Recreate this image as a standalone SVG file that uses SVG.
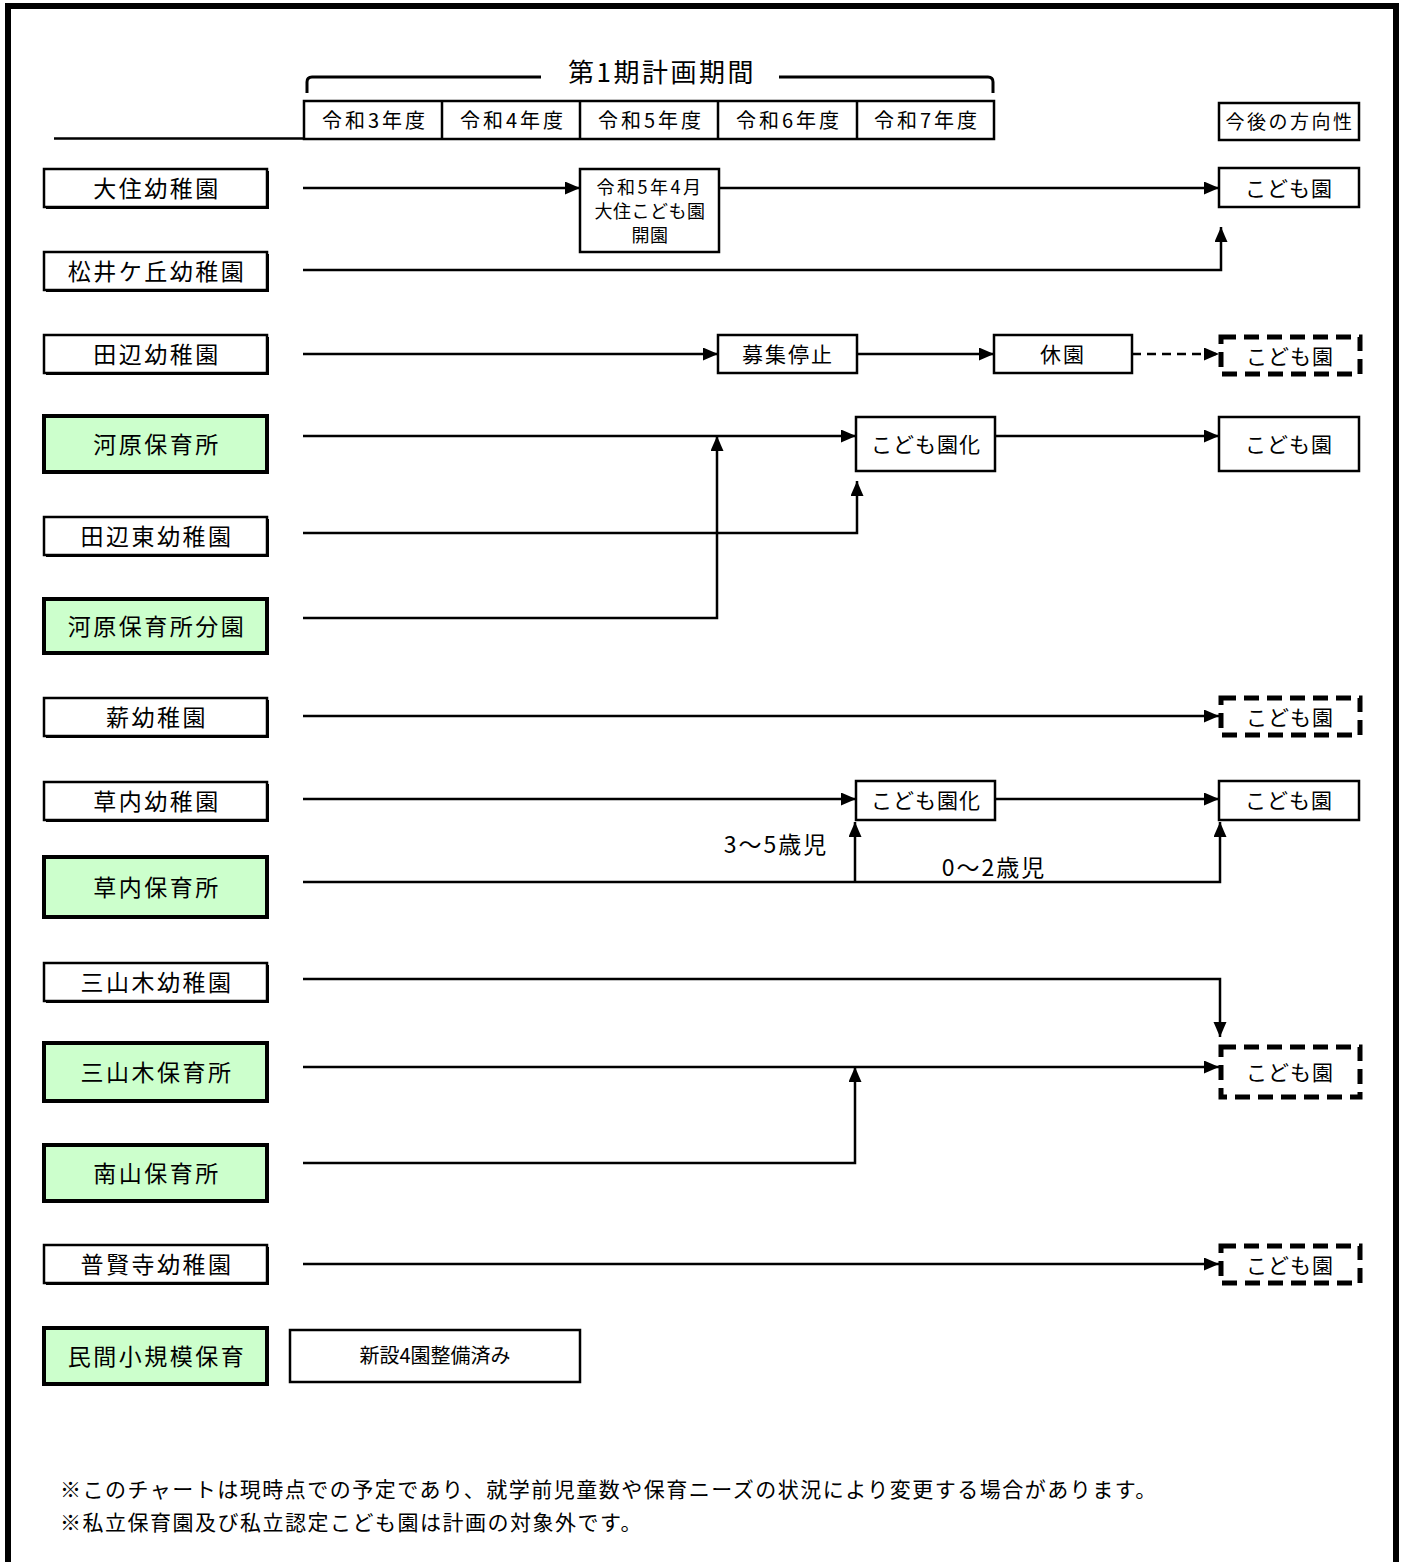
<svg xmlns="http://www.w3.org/2000/svg" width="1405" height="1562" viewBox="0 0 1405 1562">
<defs>
<marker id="arr" markerUnits="userSpaceOnUse" markerWidth="16" markerHeight="14" refX="15" refY="6.5" orient="auto">
<path d="M0,0 L15,6.5 L0,13 z" fill="#000"/>
</marker>
<style>
text{font-family:"Noto Sans CJK JP","Noto Sans CJK SC",sans-serif;fill:#000;text-anchor:middle}
.box{fill:#fff;stroke:#000;stroke-width:2.5}
.sh{fill:#000}
.green{fill:#ccffcc;stroke:#000;stroke-width:4}
.dash{fill:#fff;stroke:#000;stroke-width:5;stroke-dasharray:15 8}
.lbl{font-size:23px;letter-spacing:2.5px}
.yr{font-size:20px;letter-spacing:3px}
.c{fill:none;stroke:#000;stroke-width:2.5}
.note{font-size:21px;letter-spacing:1.5px;text-anchor:start}
.age{font-size:23px;letter-spacing:2px}
</style>
</defs>
<rect width="1405" height="1562" fill="#fff"/>
<path d="M8,1562 V6 H1396 V1562" fill="none" stroke="#000" stroke-width="6"/>

<g id="header">
<path d="M54,138.5 H304" class="c"/>
<rect x="304" y="101" width="690" height="38" class="box"/>
<path d="M442,101 V139 M580,101 V139 M718,101 V139 M857,101 V139" class="c"/>
<text x="375" y="128" class="yr">令和3年度</text>
<text x="513" y="128" class="yr">令和4年度</text>
<text x="651" y="128" class="yr">令和5年度</text>
<text x="789" y="128" class="yr">令和6年度</text>
<text x="927" y="128" class="yr">令和7年度</text>
<path d="M307,93 V82 Q307,77 312,77 H541 M779,77 H988 Q993,77 993,82 V93" fill="none" stroke="#000" stroke-width="3"/>
<text x="662" y="82" style="font-size:26px;letter-spacing:2.5px">第1期計画期間</text>
<rect x="1219" y="103" width="140" height="37" class="box"/>
<text x="1290" y="129" style="font-size:19px;letter-spacing:2.5px">今後の方向性</text>
</g>

<g id="connectors">
<path d="M303,188 H580" class="c" marker-end="url(#arr)"/>
<path d="M719,188 H1219" class="c" marker-end="url(#arr)"/>
<path d="M303,270 H1221 V227" class="c" marker-end="url(#arr)"/>
<path d="M303,354 H718" class="c" marker-end="url(#arr)"/>
<path d="M857,354 H994" class="c" marker-end="url(#arr)"/>
<path d="M1132,354 H1219" class="c" stroke-dasharray="9 6" marker-end="url(#arr)"/>
<path d="M303,436 H856" class="c" marker-end="url(#arr)"/>
<path d="M995,436 H1219" class="c" marker-end="url(#arr)"/>
<path d="M303,533 H857 V481" class="c" marker-end="url(#arr)"/>
<path d="M303,618 H717 V436" class="c" marker-end="url(#arr)"/>
<path d="M303,716 H1219" class="c" marker-end="url(#arr)"/>
<path d="M303,799 H856" class="c" marker-end="url(#arr)"/>
<path d="M995,799 H1219" class="c" marker-end="url(#arr)"/>
<path d="M303,882 H1220 V822" class="c" marker-end="url(#arr)"/>
<path d="M855,882 V822" class="c" marker-end="url(#arr)"/>
<path d="M303,979 H1220 V1037" class="c" marker-end="url(#arr)"/>
<path d="M303,1067 H1219" class="c" marker-end="url(#arr)"/>
<path d="M303,1163 H855 V1067" class="c" marker-end="url(#arr)"/>
<path d="M303,1264 H1219" class="c" marker-end="url(#arr)"/>
<text x="776" y="853" class="age">3〜5歳児</text>
<text x="994" y="876" class="age">0〜2歳児</text>
</g>

<g id="n-oosumi"><rect x="46" y="171" width="223" height="38" class="sh"/><rect x="44" y="169" width="223" height="38" class="box"/><text x="157" y="197" class="lbl">大住幼稚園</text></g>
<g id="n-matsui"><rect x="46" y="254" width="223" height="38" class="sh"/><rect x="44" y="252" width="223" height="38" class="box"/><text x="157" y="280" class="lbl">松井ケ丘幼稚園</text></g>
<g id="n-tanabe"><rect x="46" y="337" width="223" height="38" class="sh"/><rect x="44" y="335" width="223" height="38" class="box"/><text x="157" y="363" class="lbl">田辺幼稚園</text></g>
<g id="n-kawara"><rect x="46" y="418" width="223" height="56" class="sh"/><rect x="44" y="416" width="223" height="56" class="green"/><text x="157" y="453" class="lbl">河原保育所</text></g>
<g id="n-tanabehigashi"><rect x="46" y="519" width="223" height="38" class="sh"/><rect x="44" y="517" width="223" height="38" class="box"/><text x="157" y="545" class="lbl">田辺東幼稚園</text></g>
<g id="n-kawarabun"><rect x="46" y="601" width="223" height="54" class="sh"/><rect x="44" y="599" width="223" height="54" class="green"/><text x="157" y="635" class="lbl">河原保育所分園</text></g>
<g id="n-takigi"><rect x="46" y="700" width="223" height="38" class="sh"/><rect x="44" y="698" width="223" height="38" class="box"/><text x="157" y="726" class="lbl">薪幼稚園</text></g>
<g id="n-kusauchi"><rect x="46" y="784" width="223" height="38" class="sh"/><rect x="44" y="782" width="223" height="38" class="box"/><text x="157" y="810" class="lbl">草内幼稚園</text></g>
<g id="n-kusauchiho"><rect x="46" y="859" width="223" height="60" class="sh"/><rect x="44" y="857" width="223" height="60" class="green"/><text x="157" y="896" class="lbl">草内保育所</text></g>
<g id="n-miyamaki"><rect x="46" y="965" width="223" height="38" class="sh"/><rect x="44" y="963" width="223" height="38" class="box"/><text x="157" y="991" class="lbl">三山木幼稚園</text></g>
<g id="n-miyamakiho"><rect x="46" y="1045" width="223" height="58" class="sh"/><rect x="44" y="1043" width="223" height="58" class="green"/><text x="157" y="1081" class="lbl">三山木保育所</text></g>
<g id="n-minamiyama"><rect x="46" y="1147" width="223" height="56" class="sh"/><rect x="44" y="1145" width="223" height="56" class="green"/><text x="157" y="1182" class="lbl">南山保育所</text></g>
<g id="n-fugenji"><rect x="46" y="1247" width="223" height="38" class="sh"/><rect x="44" y="1245" width="223" height="38" class="box"/><text x="157" y="1273" class="lbl">普賢寺幼稚園</text></g>
<g id="n-minkan"><rect x="46" y="1330" width="223" height="56" class="sh"/><rect x="44" y="1328" width="223" height="56" class="green"/><text x="157" y="1365" class="lbl">民間小規模保育</text></g>

<g id="n-oosumikodomo"><rect x="580" y="169" width="139" height="83" class="box"/>
<text x="650" y="194" style="font-size:18px;letter-spacing:2.5px">令和5年4月</text>
<text x="650" y="218" style="font-size:18px;letter-spacing:0.5px">大住こども園</text>
<text x="650" y="242" style="font-size:18px;letter-spacing:0.5px">開園</text></g>
<g id="n-boshu"><rect x="718" y="335" width="139" height="38" class="box"/><text x="788" y="362" style="font-size:21px;letter-spacing:2px">募集停止</text></g>
<g id="n-kyuen"><rect x="994" y="335" width="138" height="38" class="box"/><text x="1063" y="362" style="font-size:21px;letter-spacing:2px">休園</text></g>
<g id="n-kodomoka1"><rect x="856" y="417" width="139" height="54" class="box"/><text x="926" y="452" style="font-size:21px;letter-spacing:1px">こども園化</text></g>
<g id="n-kodomoka2"><rect x="856" y="781" width="139" height="39" class="box"/><text x="926" y="808" style="font-size:21px;letter-spacing:1px">こども園化</text></g>
<g id="n-shinsetsu"><rect x="290" y="1330" width="290" height="52" class="box"/><text x="435" y="1363" style="font-size:20px">新設4園整備済み</text></g>

<g id="n-r1"><rect x="1219" y="168" width="140" height="39" class="box"/><text x="1289" y="196" style="font-size:21px;letter-spacing:1px">こども園</text></g>
<g id="n-r2"><rect x="1221" y="337" width="139" height="37" class="dash"/><text x="1290" y="364" style="font-size:21px;letter-spacing:1px">こども園</text></g>
<g id="n-r3"><rect x="1219" y="417" width="140" height="54" class="box"/><text x="1289" y="452" style="font-size:21px;letter-spacing:1px">こども園</text></g>
<g id="n-r4"><rect x="1221" y="698" width="139" height="37" class="dash"/><text x="1290" y="725" style="font-size:21px;letter-spacing:1px">こども園</text></g>
<g id="n-r5"><rect x="1219" y="781" width="140" height="39" class="box"/><text x="1289" y="808" style="font-size:21px;letter-spacing:1px">こども園</text></g>
<g id="n-r6"><rect x="1221" y="1047" width="139" height="50" class="dash"/><text x="1290" y="1080" style="font-size:21px;letter-spacing:1px">こども園</text></g>
<g id="n-r7"><rect x="1221" y="1246" width="139" height="37" class="dash"/><text x="1290" y="1273" style="font-size:21px;letter-spacing:1px">こども園</text></g>

<g id="notes">
<text x="60" y="1497" class="note">※このチャートは現時点での予定であり、就学前児童数や保育ニーズの状況により変更する場合があります。</text>
<text x="60" y="1530" class="note">※私立保育園及び私立認定こども園は計画の対象外です。</text>
</g>
</svg>
